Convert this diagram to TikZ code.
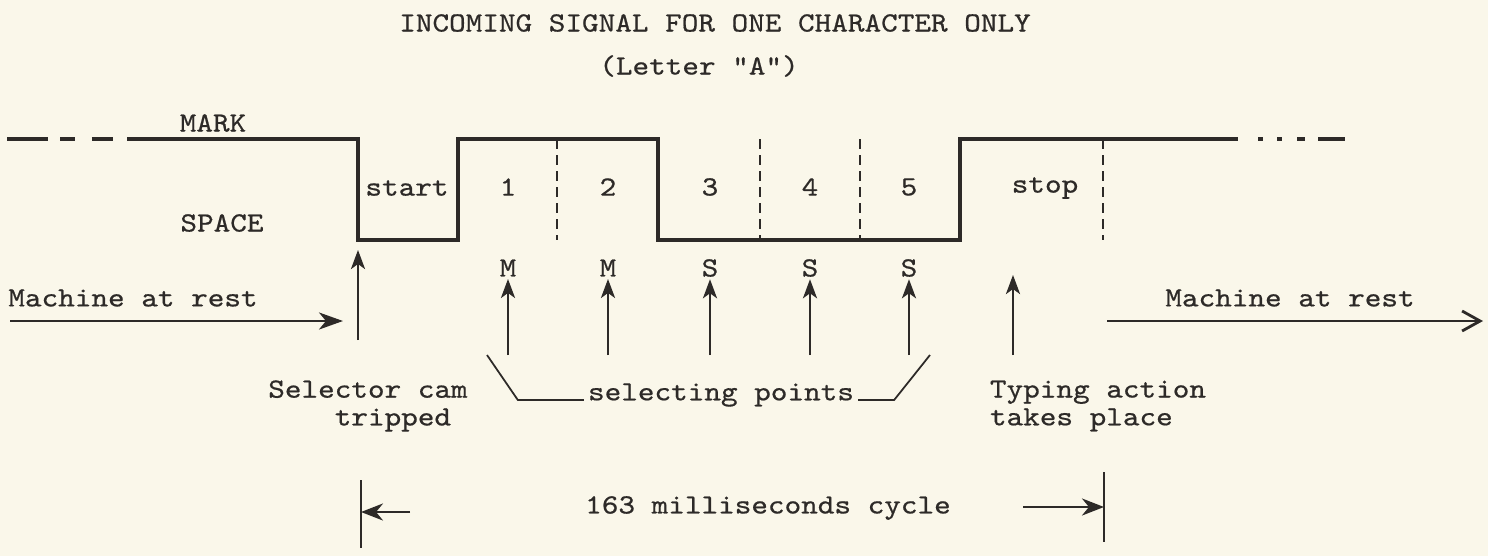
\documentclass[tikz,border=0pt]{standalone}
\usepackage{fontspec}
\setmonofont[Extension=.otf,FakeStretch=1.14,FakeBold=0.6]{lmmono10-regular}
\usetikzlibrary{arrows.meta,positioning}
\definecolor{paper}{RGB}{250,247,234}
\definecolor{ink}{RGB}{45,42,40}

\begin{document}
\begin{tikzpicture}[>=Stealth,font=\ttfamily\fontsize{7.9}{7.9}\selectfont,color=ink,
 sig/.style={line width=0.9pt},
 slot/.style={line width=0.5pt,dash pattern=on 1mm off 0.6mm},
 pick/.style={line width=0.8pt,->,>={Stealth[length=1.9mm,width=1.4mm,inset=0.5mm]}},
 lead/.style={line width=0.5pt},
 cyc/.style={line width=0.8pt,->,>={Stealth[length=2.2mm,width=1.7mm,inset=0.7mm]}}]
\fill[paper] (0,0) rectangle (14.88,5.56);
\useasboundingbox (0,0) rectangle (14.88,5.56);
\node (title) at (7.15,5.33) {INCOMING SIGNAL FOR ONE CHARACTER ONLY};
\node (letter) at (6.99,4.90) {(Letter "A")};
\node (mark) at (2.13,4.33) {MARK};
\node (space) at (2.22,3.33) {SPACE};
\draw[sig] (0.07,4.17) -- (0.48,4.17) (0.60,4.17) -- (0.75,4.17) (0.92,4.17) -- (1.13,4.17);
\draw[sig] (1.27,4.17) -| (3.58,3.16) -| (4.58,4.17) -| (6.58,3.16) -| (9.60,4.17) -- (12.38,4.17);
\draw[sig] (12.58,4.17) -- (12.63,4.17) (12.77,4.17) -- (12.82,4.17) (12.97,4.17) -- (13.05,4.17) (13.18,4.17) -- (13.45,4.17);
\draw[slot] (5.57,4.17) -- (5.57,3.16) (7.60,4.17) -- (7.60,3.16) (8.60,4.17) -- (8.60,3.16) (11.03,4.17) -- (11.03,3.16);
\node (start) at (4.07,3.68) {start};
\node (b1) at (5.08,3.69) {1};
\node (b2) at (6.08,3.69) {2};
\node (b3) at (7.10,3.69) {3};
\node (b4) at (8.10,3.69) {4};
\node (b5) at (9.09,3.69) {5};
\node (stop) at (10.45,3.68) {stop};
\node[inner sep=0.5pt] (m1) at (5.08,2.88) {M};
\node[inner sep=0.5pt] (m2) at (6.08,2.88) {M};
\node[inner sep=0.5pt] (s3) at (7.10,2.88) {S};
\node[inner sep=0.5pt] (s4) at (8.10,2.88) {S};
\node[inner sep=0.5pt] (s5) at (9.09,2.88) {S};
\coordinate (p1) at (5.08,2.01);
\coordinate (p2) at (6.08,2.01);
\coordinate (p3) at (7.10,2.01);
\coordinate (p4) at (8.10,2.01);
\coordinate (p5) at (9.09,2.01);
\path[pick] (p1) edge (m1.south) (p2) edge (m2.south) (p3) edge (s3.south)
 (p4) edge (s4.south) (p5) edge (s5.south);
\coordinate (tripB) at (3.58,2.16);
\coordinate (tripT) at (3.58,3.06);
\draw[pick] (tripB) -- (tripT);
\coordinate (typeB) at (10.13,2.01);
\coordinate (typeT) at (10.13,2.81);
\draw[pick] (typeB) -- (typeT);
\node (restL) at (1.33,2.58) {Machine at rest};
\coordinate (restLa) at (0.10,2.35);
\coordinate (restLb) at (3.43,2.35);
\draw[line width=0.8pt,->,>={Stealth[length=2.4mm,width=1.7mm,inset=0.7mm]}] (restLa) -- (restLb);
\node (restR) at (12.90,2.58) {Machine at rest};
\coordinate (restRa) at (11.07,2.35);
\coordinate (restRb) at (14.83,2.35);
\draw[line width=0.8pt,->,>={Straight Barb[length=1.8mm,width=2mm]}] (restRa) -- (restRb);
\node[align=left] (cam) at (3.68,1.50) {Selector cam\\\hphantom{Sele}tripped};
\node[inner sep=1pt] (sel) at (7.21,1.61) {selecting points};
\coordinate (selL) at (4.87,2.01);
\coordinate (selR) at (9.30,2.01);
\draw[lead] ([yshift=-0.5mm]sel.west) -- ++(-0.66,0) -- (selL);
\draw[lead] ([yshift=-0.5mm]sel.east) -- ++(0.36,0) -- (selR);
\node[align=left] (typing) at (10.98,1.50) {Typing action\\takes place};
\node (cycle) at (7.68,0.48) {163 milliseconds cycle};
\coordinate (cycLt) at (3.61,0.76);
\coordinate (cycLb) at (3.61,0.08);
\coordinate (cycRt) at (11.04,0.84);
\coordinate (cycRb) at (11.04,0.14);
\draw[line width=0.8pt] (cycLt) -- (cycLb) (cycRt) -- (cycRb);
\coordinate (cycLa) at (4.10,0.44);
\coordinate (cycRa) at (10.23,0.49);
\draw[cyc] (cycLa) -- (cycLt |- cycLa);
\draw[cyc] (cycRa) -- (cycRt |- cycRa);
\end{tikzpicture}
\end{document}
